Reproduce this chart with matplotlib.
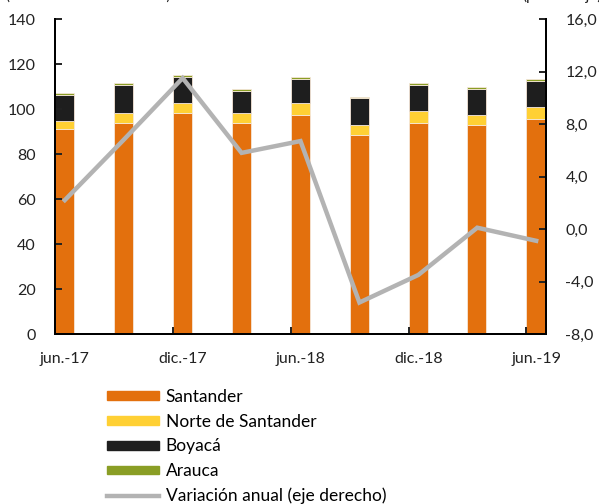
import matplotlib
matplotlib.use("Agg")
from matplotlib import pyplot as plt
from matplotlib.patches import Patch
from matplotlib.lines import Line2D
import numpy as np

plt.rcParams['font.family'] = ['Lato', 'DejaVu Sans']

# quarterly data, jun-17 .. jun-19 (months since jun-17)
months = [0, 3, 6, 9, 12, 15, 18, 21, 24]
santander = [90.9, 93.6, 98.1, 93.6, 97.2, 88.3, 93.6, 92.7, 95.4]
norte = [3.6, 4.5, 4.4, 4.5, 5.3, 4.4, 5.4, 4.5, 5.4]
boyaca = [11.6, 12.5, 11.6, 9.8, 10.7, 12.1, 11.6, 11.6, 11.6]
arauca = [0.9, 0.9, 0.9, 0.9, 0.9, 0.6, 0.9, 0.9, 0.8]
variacion = [2.2, 6.8, 11.5, 5.8, 6.7, -5.6, -3.5, 0.1, -0.9]

tick_pos = [0, 6, 12, 18, 24]
tick_lab = ["jun.-17", "dic.-17", "jun.-18", "dic.-18", "jun.-19"]

c_sant = "#E3700D"
c_norte = "#FFD034"
c_boy = "#1E1E1E"
c_ara = "#8A9E25"
c_var = "#B3B3B3"

fig = plt.figure(figsize=(5.99, 5.04), dpi=100)
ax = fig.add_axes([0.0918, 0.3373, 0.8197, 0.625])
ax2 = ax.twinx()

x = np.array(months)
s = np.array(santander)
n = np.array(norte)
b = np.array(boyaca)
a = np.array(arauca)
ew = dict(edgecolor="#F5E6D8", linewidth=0.6)
ax.bar(x, s, width=0.97, align="edge", color=c_sant, **ew)
ax.bar(x, n, width=0.97, align="edge", bottom=s, color=c_norte, **ew)
ax.bar(x, b, width=0.97, align="edge", bottom=s + n, color=c_boy, **ew)
ax.bar(x, a, width=0.97, align="edge", bottom=s + n + b, color=c_ara, **ew)

ax2.plot(x + 0.5, variacion, color=c_var, linewidth=3.2, solid_joinstyle="miter")

ax.set_xlim(0, 25)
ax.set_ylim(0, 140)
ax.set_yticks(range(0, 141, 20))
ax2.set_ylim(-8, 16)
ax2.set_yticks(range(-8, 17, 4))
ax2.set_yticklabels([f"{v},0" for v in range(-8, 17, 4)])
# ticks at the bar edges, labels centred on the bars
ax.set_xticks(tick_pos)
ax.set_xticklabels([])
ax.set_xticks([p + 0.5 for p in tick_pos], minor=True)
ax.set_xticklabels(tick_lab, minor=True)

for axx in (ax, ax2):
    axx.spines["top"].set_visible(False)
    for sp in ("left", "right", "bottom"):
        axx.spines[sp].set_linewidth(1.4)
    axx.tick_params(direction="in", length=5, width=1.4, labelsize=11.5,
                    colors="#222222")
ax.tick_params(axis="x", which="minor", length=0, pad=13, labelsize=11.5,
               colors="#222222")
ax.tick_params(axis="y", pad=14)
ax2.tick_params(axis="y", pad=14)

# unit labels, mostly above the top edge as in the source image
fig.text(0.01, 1.008, "(miles de barriles diarios)", fontsize=11, va="center",
         ha="left", color="#222222")
fig.text(1.005, 1.008, "(porcentaje)", fontsize=11, va="center", ha="right",
         color="#222222")

handles = [Patch(color=c_sant), Patch(color=c_norte), Patch(color=c_boy),
           Patch(color=c_ara), Line2D([], [], color=c_var, linewidth=3.2)]
labels = ["Santander", "Norte de Santander", "Boyacá", "Arauca",
          "Variación anual (eje derecho)"]
fig.legend(handles, labels, loc="upper left", bbox_to_anchor=(0.178, 0.228),
           frameon=False, fontsize=12.5, handlelength=3.0, handleheight=0.4,
           labelspacing=0.5, handletextpad=0.4, borderaxespad=0, borderpad=0)

fig.savefig("out.png", dpi=100)
